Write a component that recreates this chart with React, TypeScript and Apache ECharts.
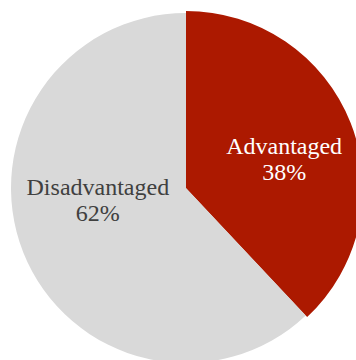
import React, { useEffect, useRef } from "react";
import * as echarts from "echarts";

const categories = ["Advantaged", "Disadvantaged"];
const values = [38, 62];
const colors = ["#AC1900", "#D9D9D9"];
const labelColors = ["#FFFFFF", "#404040"];
const labelOffsets = [
  [14, 4],
  [-4, -21],
];

export default function App() {
  const ref = useRef<HTMLDivElement>(null);
  useEffect(() => {
    document.body.style.margin = "0";
    const chart = echarts.init(ref.current!, null, { renderer: "svg" });
    chart.setOption({
      animation: false,
      series: [
        {
          type: "pie",
          center: [186, 188],
          radius: [0, 177],
          startAngle: 90,
          clockwise: true,
          silent: true,
          label: { show: false },
          labelLine: { show: false },
          itemStyle: { borderWidth: 0 },
          data: categories.map((name, i) => ({
            name,
            value: values[i],
            itemStyle: { color: i === 0 ? colors[i] : "rgba(0,0,0,0)" },
          })),
        },
        {
          type: "pie",
          center: [186, 188],
          radius: [0, 175],
          startAngle: 90,
          clockwise: true,
          silent: true,
          label: {
            show: true,
            position: "inside",
            formatter: "{b}\n{c}%",
            fontFamily: '"Liberation Serif", "Times New Roman", serif',
            fontSize: 24,
            lineHeight: 26,
            align: "center",
          },
          labelLine: { show: false },
          itemStyle: { borderWidth: 0 },
          data: categories.map((name, i) => ({
            name,
            value: values[i],
            itemStyle: { color: colors[i] },
            label: { color: labelColors[i], offset: labelOffsets[i] },
          })),
        },
      ],
    });
    return () => chart.dispose();
  }, []);
  return <div ref={ref} style={{ width: 356, height: 360 }} />;
}
